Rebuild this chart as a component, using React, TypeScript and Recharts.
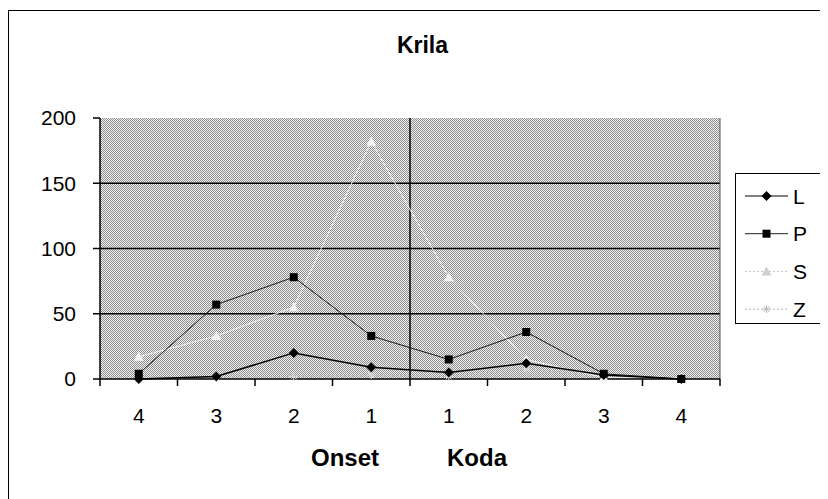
import { CartesianGrid, Label, Legend, Line, LineChart, ReferenceLine, XAxis, YAxis } from "recharts";

const onsetLabels = ["4", "3", "2", "1"];
const kodaLabels = ["1", "2", "3", "4"];
const categories = [...onsetLabels, ...kodaLabels];

const seriesL = [0, 2, 20, 9, 5, 12, 3, 0];
const seriesP = [4, 57, 78, 33, 15, 36, 4, 0];
const seriesS = [17, 33, 55, 182, 78, 15, 1, 1];
const seriesZ = [0, 1, 2, 3, 2, 8, 1, 0];

const yTicks = [0, 50, 100, 150, 200];
const gridValues = [50, 100, 150];

// category boundaries (tick marks) and centres (labels)
const boundaries = [...categories.map((_, i) => i), categories.length];
const centres = categories.map((_, i) => i + 0.5);

const data = categories.map((label, i) => ({
  pos: i + 0.5,
  label,
  L: seriesL[i],
  P: seriesP[i],
  S: seriesS[i],
  Z: seriesZ[i],
}));

const font = "Arial, 'Liberation Sans', sans-serif";

function Diamond({ cx, cy, c = "#000" }: any) {
  if (cx == null || cy == null) return null;
  return <polygon points={`${cx},${cy - 5} ${cx + 5},${cy} ${cx},${cy + 5} ${cx - 5},${cy}`} fill={c} />;
}

function Square({ cx, cy, c = "#000" }: any) {
  if (cx == null || cy == null) return null;
  return <rect x={cx - 4} y={cy - 4} width={8} height={8} fill={c} />;
}

function Triangle({ cx, cy, c = "#f2f2f2" }: any) {
  if (cx == null || cy == null) return null;
  return <polygon points={`${cx},${cy - 5} ${cx + 5},${cy + 4} ${cx - 5},${cy + 4}`} fill={c} />;
}

function Star({ cx, cy, c = "#e6e6e6" }: any) {
  if (cx == null || cy == null) return null;
  return (
    <g stroke={c} strokeWidth={1}>
      <line x1={cx - 4} y1={cy} x2={cx + 4} y2={cy} />
      <line x1={cx} y1={cy - 4} x2={cx} y2={cy + 4} />
      <line x1={cx - 3} y1={cy - 3} x2={cx + 3} y2={cy + 3} />
      <line x1={cx - 3} y1={cy + 3} x2={cx + 3} y2={cy - 3} />
    </g>
  );
}

const legendItems = [
  { name: "L", stroke: "#000", dash: undefined, Marker: Diamond, c: "#000" },
  { name: "P", stroke: "#222", dash: undefined, Marker: Square, c: "#000" },
  { name: "S", stroke: "#c8c8c8", dash: "2 2", Marker: Triangle, c: "#d0d0d0" },
  { name: "Z", stroke: "#b4b4b4", dash: "2 2", Marker: Star, c: "#b8b8b8" },
];

function renderLegend() {
  return (
    <div style={{ width: 86, height: 151, border: "1px solid #000", background: "#fff", boxSizing: "border-box" }}>
      <svg width={84} height={149} style={{ display: "block" }}>
        {legendItems.map((item, i) => {
          const y = 22 + i * 37.7;
          const M = item.Marker;
          return (
            <g key={item.name}>
              <line x1={9} x2={52} y1={y} y2={y} stroke={item.stroke} strokeDasharray={item.dash} />
              <M cx={30.5} cy={y} c={item.c} />
              <text x={57} y={y + 7.5} fontSize={21} fontFamily={font} fill="#000">
                {item.name}
              </text>
            </g>
          );
        })}
      </svg>
    </div>
  );
}

function AxisTitle({ viewBox }: any) {
  const cx = viewBox.x + viewBox.width / 2;
  const y = viewBox.y + 80;
  return (
    <g fontFamily={font} fontSize={24} fontWeight="bold" fill="#000">
      <text x={cx - 65} y={y} textAnchor="middle">Onset</text>
      <text x={cx + 67} y={y} textAnchor="middle">Koda</text>
    </g>
  );
}

export default function App() {
  return (
    <div
      style={{
        position: "relative",
        marginTop: 2,
        width: 819,
        height: 488,
        borderLeft: "1px solid #000",
        borderTop: "1px solid #000",
        background: "#fff",
        fontFamily: font,
      }}
    >
      <div
        style={{
          position: "absolute",
          left: 0,
          width: 827,
          top: 21,
          textAlign: "center",
          fontSize: 23,
          fontWeight: "bold",
          color: "#000",
        }}
      >
        Krila
      </div>
      <LineChart width={819} height={488} data={data} margin={{ top: 107, right: 22, left: 0, bottom: 53 }}>
        <defs>
          <pattern id="dither" width="2" height="2" patternUnits="userSpaceOnUse">
            <rect width="2" height="2" fill="#f4f4f4" />
            <rect width="1" height="1" fill="#8c8c8c" />
            <rect x="1" y="1" width="1" height="1" fill="#8c8c8c" />
          </pattern>
        </defs>
        <CartesianGrid
          vertical={false}
          horizontalValues={gridValues}
          stroke="#000"
          strokeWidth={1.5}
          fill="url(#dither)"
          fillOpacity={1}
        />
        <XAxis
          xAxisId="a"
          type="number"
          dataKey="pos"
          domain={[0, categories.length]}
          ticks={boundaries}
          interval={0}
          tickFormatter={() => " "}
          tickSize={7}
          height={7}
          axisLine={{ stroke: "#000", strokeWidth: 1.5 }}
          tickLine={{ stroke: "#000", strokeWidth: 1.5 }}
        />
        <XAxis
          xAxisId="b"
          type="number"
          dataKey="pos"
          domain={[0, categories.length]}
          ticks={centres}
          interval={0}
          tickFormatter={(v: number) => categories[Math.floor(v)]}
          axisLine={false}
          tickLine={false}
          tickSize={0}
          tickMargin={22}
          height={60}
          tick={{ fontSize: 21, fill: "#000", fontFamily: font }}
        >
          <Label content={AxisTitle} />
        </XAxis>
        <YAxis
          domain={[0, 200]}
          ticks={yTicks}
          width={91}
          tickSize={7}
          tickMargin={17}
          axisLine={{ stroke: "#000", strokeWidth: 1.5 }}
          tickLine={{ stroke: "#000", strokeWidth: 1.5 }}
          tick={{ fontSize: 21, fill: "#000", fontFamily: font }}
        />
        <ReferenceLine xAxisId="a" x={onsetLabels.length} stroke="#000" strokeWidth={1.5} />
        <ReferenceLine xAxisId="a" x={categories.length} stroke="#555" strokeWidth={1} />
        <Legend
          layout="vertical"
          align="right"
          verticalAlign="middle"
          content={renderLegend}
          wrapperStyle={{ left: 726, top: 162, width: 86, height: 151 }}
        />
        <Line xAxisId="a" dataKey="Z" stroke="#c0c0c0" strokeDasharray="2 2" strokeWidth={1} dot={<Star c="#d8d8d8" />} isAnimationActive={false} />
        <Line xAxisId="a" dataKey="S" stroke="#f4f4f4" strokeWidth={1} dot={<Triangle c="#f4f4f4" />} isAnimationActive={false} />
        <Line xAxisId="a" dataKey="P" stroke="#1a1a1a" strokeWidth={1} dot={<Square c="#000" />} isAnimationActive={false} />
        <Line xAxisId="a" dataKey="L" stroke="#000" strokeWidth={1.5} dot={<Diamond c="#000" />} isAnimationActive={false} />
      </LineChart>
    </div>
  );
}
